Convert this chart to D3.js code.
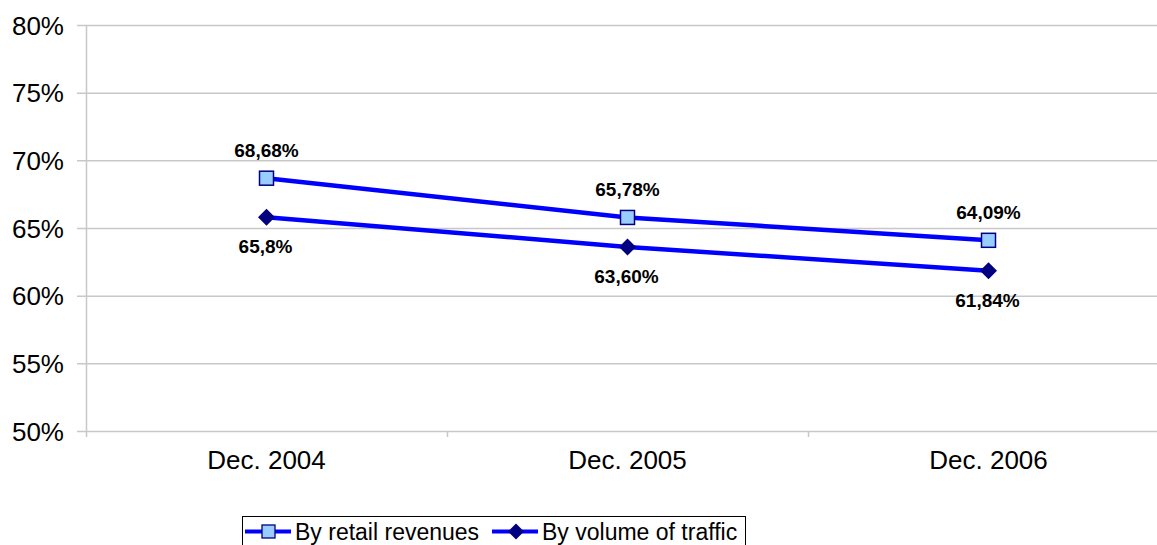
<!DOCTYPE html>
<html><head><meta charset="utf-8">
<script src="https://cdn.jsdelivr.net/npm/d3@7"></script>
<style>body{margin:0;background:#fff}svg{display:block;font-family:"Liberation Sans",Arial,sans-serif}</style>
</head><body><svg id="c" width="1157" height="545"></svg>
<script>
const categories = ["Dec. 2004","Dec. 2005","Dec. 2006"];
const retailRevenues = [68.68, 65.78, 64.09];
const retailLabels = ["68,68%","65,78%","64,09%"];
const trafficVolume = [65.8, 63.60, 61.84];
const trafficLabels = ["65,8%","63,60%","61,84%"];
const yTicks = [50,55,60,65,70,75,80];
const seriesNames = ["By retail revenues","By volume of traffic"];

const svg = d3.select("#c");
const L = 86, R = 1169, T = 25, B = 431;
const x = d3.scaleBand().domain(categories).range([L, R]);
const y = d3.scaleLinear().domain([50, 80]).range([B, T]);
const cx = d => x(d) + x.bandwidth()/2;

// gridlines
svg.append("g").selectAll("line").data(yTicks).join("line")
  .attr("x1", L - 9).attr("x2", R).attr("y1", d => y(d)+0.5).attr("y2", d => y(d)+0.5)
  .attr("stroke", "#c8c8c8").attr("stroke-width", 1.5);
// y axis line
svg.append("line").attr("x1", L+0.5).attr("x2", L+0.5).attr("y1", T).attr("y2", B+6)
  .attr("stroke", "#c8c8c8").attr("stroke-width", 1.5);
// x ticks
svg.append("g").selectAll("line").data(categories.slice(1)).join("line")
  .attr("x1", d => x(d)+0.5).attr("x2", d => x(d)+0.5).attr("y1", B).attr("y2", B+6)
  .attr("stroke", "#c8c8c8").attr("stroke-width", 1.5);
// y labels
svg.append("g").selectAll("text").data(yTicks).join("text")
  .attr("x", 64).attr("y", d => y(d) + 9.5).attr("text-anchor", "end")
  .attr("font-size", 26).attr("fill", "#000").text(d => d + "%");
// x labels
svg.append("g").selectAll("text").data(categories).join("text")
  .attr("x", d => cx(d)).attr("y", 469).attr("text-anchor", "middle")
  .attr("font-size", 26).attr("fill", "#000").text(d => d);

const line = d3.line().x((d,i) => cx(categories[i])).y(d => y(d));
svg.append("path").datum(retailRevenues).attr("d", line).attr("fill","none").attr("stroke","#0000ff").attr("stroke-width",4.5);
svg.append("path").datum(trafficVolume).attr("d", line).attr("fill","none").attr("stroke","#0000ff").attr("stroke-width",4.5);

// markers
svg.append("g").selectAll("rect").data(retailRevenues).join("rect")
  .attr("x", (d,i) => cx(categories[i]) - 7).attr("y", d => y(d) - 7)
  .attr("width", 14).attr("height", 14).attr("fill", "#99ccff").attr("stroke", "#000080").attr("stroke-width", 1.5);
svg.append("g").selectAll("path").data(trafficVolume).join("path")
  .attr("transform", (d,i) => `translate(${cx(categories[i])},${y(d)})`)
  .attr("d", "M0,-8.5L8.5,0L0,8.5L-8.5,0Z").attr("fill", "#000080");

// data labels
svg.append("g").selectAll("text").data(retailRevenues).join("text")
  .attr("x", (d,i) => cx(categories[i])).attr("y", d => y(d) - 21)
  .attr("text-anchor","middle").attr("font-size",19).attr("font-weight","bold").text((d,i) => retailLabels[i]);
svg.append("g").selectAll("text").data(trafficVolume).join("text")
  .attr("x", (d,i) => cx(categories[i]) - 1).attr("y", d => y(d) + 36)
  .attr("text-anchor","middle").attr("font-size",19).attr("font-weight","bold").text((d,i) => trafficLabels[i]);

// legend
const lg = svg.append("g");
lg.append("rect").attr("x", 242.5).attr("y", 516.5).attr("width", 503).attr("height", 40)
  .attr("fill","#fff").attr("stroke","#000").attr("stroke-width",1);
const items = [{x:245, name:seriesNames[0], type:"sq"},{x:492, name:seriesNames[1], type:"dm"}];
items.forEach(it => {
  lg.append("line").attr("x1", it.x).attr("x2", it.x+46).attr("y1", 531.5).attr("y2", 531.5)
    .attr("stroke","#0000ff").attr("stroke-width",4);
  if (it.type === "sq") lg.append("rect").attr("x", it.x+17).attr("y", 525).attr("width", 13).attr("height", 13)
    .attr("fill","#99ccff").attr("stroke","#000080").attr("stroke-width",1.3);
  else lg.append("path").attr("transform",`translate(${it.x+24},531.5)`).attr("d","M0,-8L8,0L0,8L-8,0Z").attr("fill","#000080");
  lg.append("text").attr("x", it.x+50).attr("y", 540).attr("font-size", 23).text(it.name);
});
</script></body></html>
